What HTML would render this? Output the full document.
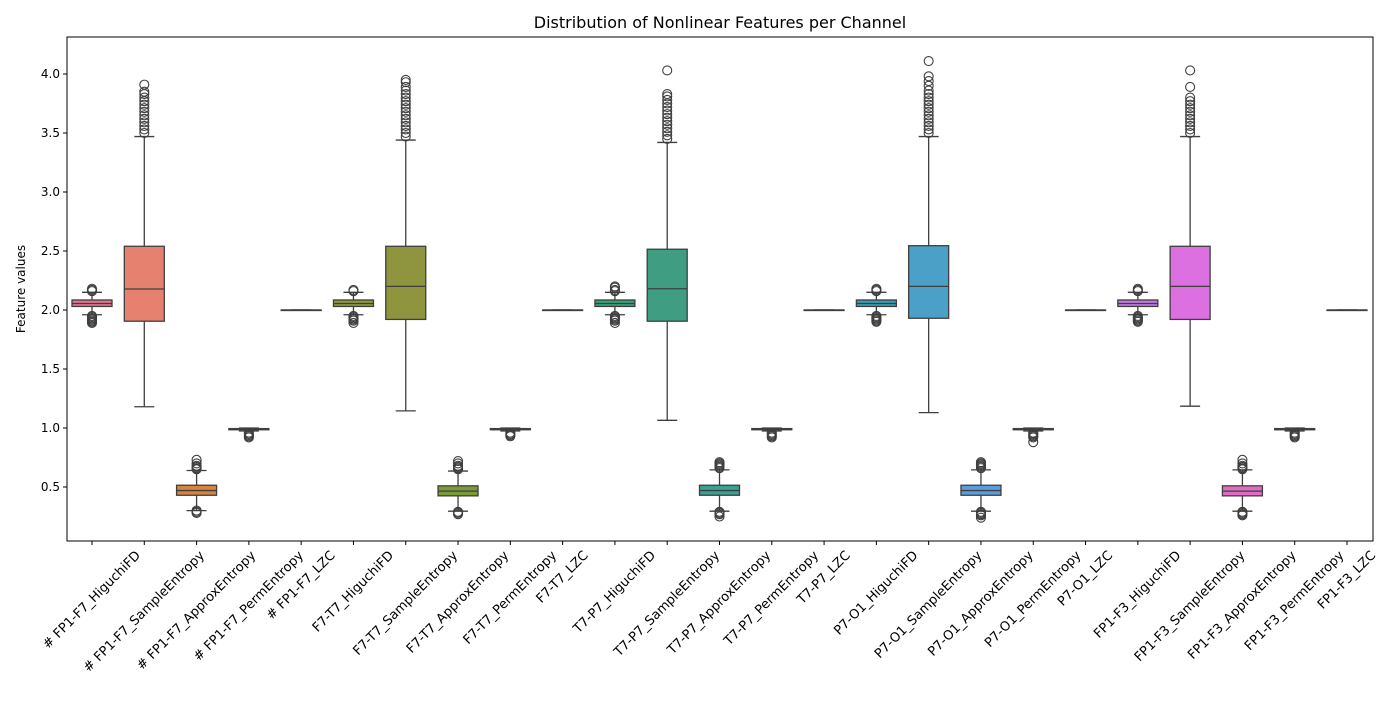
<!DOCTYPE html>
<html><head><meta charset="utf-8"><style>
body{margin:0;background:#fff;font-family:"Liberation Sans","DejaVu Sans",sans-serif;}
svg text{font-family:"DejaVu Sans","Liberation Sans",sans-serif;}
</style></head><body>
<svg id="chart" width="1400" height="700" xmlns="http://www.w3.org/2000/svg">
<rect width="1400" height="700" fill="#fff"/>
<text x="720" y="28" text-anchor="middle" font-size="16" fill="#000">Distribution of Nonlinear Features per Channel</text>
<text transform="translate(25,289) rotate(-90)" text-anchor="middle" font-size="12" fill="#000">Feature values</text>
<g id="plot"></g>
<rect x="67" y="37" width="1306" height="504" fill="none" stroke="#000" stroke-width="1"/>
</svg>
<script>
const categories=["# FP1-F7_HiguchiFD","# FP1-F7_SampleEntropy","# FP1-F7_ApproxEntropy","# FP1-F7_PermEntropy","# FP1-F7_LZC",
"F7-T7_HiguchiFD","F7-T7_SampleEntropy","F7-T7_ApproxEntropy","F7-T7_PermEntropy","F7-T7_LZC",
"T7-P7_HiguchiFD","T7-P7_SampleEntropy","T7-P7_ApproxEntropy","T7-P7_PermEntropy","T7-P7_LZC",
"P7-O1_HiguchiFD","P7-O1_SampleEntropy","P7-O1_ApproxEntropy","P7-O1_PermEntropy","P7-O1_LZC",
"FP1-F3_HiguchiFD","FP1-F3_SampleEntropy","FP1-F3_ApproxEntropy","FP1-F3_PermEntropy","FP1-F3_LZC"];
const colors=["#e07590","#e6806f","#d8843d","#c08d32","#a89532","#8f9a3a","#8e953e","#7c9a3a","#5ea13a","#3ba55a",
"#37a277","#3f9e82","#38a193","#3aa0a0","#3ba0ab","#3c9cb5","#4ba0c7","#5b9ee0","#8790e8","#a587e8",
"#c07ae0","#dc70e0","#e26cc4","#e66fb0","#e673a0"];
const q1=[2.03,1.905,0.43,0.985,2.0, 2.03,1.92,0.425,0.985,2.0, 2.03,1.905,0.43,0.985,2.0, 2.03,1.93,0.43,0.985,2.0, 2.03,1.92,0.425,0.985,2.0];
const med=[2.055,2.178,0.47,0.99,2.0, 2.055,2.20,0.465,0.99,2.0, 2.055,2.18,0.47,0.99,2.0, 2.055,2.20,0.47,0.99,2.0, 2.055,2.20,0.465,0.99,2.0];
const q3=[2.085,2.54,0.515,0.995,2.0, 2.085,2.54,0.51,0.995,2.0, 2.085,2.515,0.515,0.995,2.0, 2.085,2.545,0.515,0.995,2.0, 2.085,2.54,0.51,0.995,2.0];
const whiskLo=[1.96,1.18,0.30,0.975,2.0, 1.96,1.145,0.295,0.975,2.0, 1.96,1.065,0.295,0.975,2.0, 1.96,1.13,0.295,0.975,2.0, 1.96,1.185,0.295,0.975,2.0];
const whiskHi=[2.15,3.47,0.64,1.0,2.0, 2.15,3.44,0.635,1.0,2.0, 2.15,3.42,0.645,1.0,2.0, 2.15,3.47,0.645,1.0,2.0, 2.15,3.47,0.645,1.0,2.0];
const outliers=[
[1.89,1.90,1.91,1.92,1.93,1.94,1.95,2.16,2.17,2.18],
[3.50,3.53,3.56,3.59,3.62,3.65,3.68,3.71,3.74,3.77,3.80,3.83,3.85,3.91],
[0.28,0.29,0.30,0.65,0.66,0.67,0.68,0.70,0.73],
[0.92,0.93,0.94,0.95,0.96],
[],
[1.89,1.91,1.92,1.93,1.94,1.95,2.16,2.17],
[3.47,3.50,3.53,3.56,3.59,3.62,3.65,3.68,3.71,3.74,3.77,3.80,3.83,3.86,3.89,3.93,3.95],
[0.27,0.28,0.29,0.65,0.66,0.67,0.68,0.70,0.72],
[0.93,0.94,0.95,0.96],
[],
[1.89,1.91,1.92,1.93,1.94,1.95,2.16,2.17,2.19,2.20],
[3.45,3.48,3.51,3.54,3.57,3.60,3.63,3.66,3.69,3.72,3.75,3.78,3.81,3.83,4.03],
[0.25,0.27,0.28,0.29,0.66,0.67,0.68,0.69,0.70,0.71],
[0.92,0.93,0.94,0.95,0.96],
[],
[1.90,1.91,1.92,1.93,1.94,1.95,2.16,2.17,2.18],
[3.50,3.53,3.56,3.59,3.62,3.65,3.68,3.71,3.74,3.77,3.80,3.83,3.86,3.90,3.94,3.98,4.11],
[0.24,0.26,0.27,0.28,0.29,0.66,0.67,0.68,0.69,0.70,0.71],
[0.88,0.92,0.93,0.94,0.95,0.96],
[],
[1.90,1.91,1.92,1.93,1.94,1.95,2.16,2.17,2.18],
[3.50,3.53,3.56,3.59,3.62,3.65,3.68,3.71,3.74,3.77,3.80,3.89,4.03],
[0.26,0.27,0.28,0.29,0.65,0.66,0.67,0.68,0.70,0.73],
[0.92,0.93,0.94,0.95,0.96],
[]];
const yTicks=[0.5,1.0,1.5,2.0,2.5,3.0,3.5,4.0];
const yTickLabels=["0.5","1.0","1.5","2.0","2.5","3.0","3.5","4.0"];

const NS="http://www.w3.org/2000/svg";
const plot=document.getElementById('plot');
const X0=92, DX=(1347-92)/24, BW=40;
function xs(i){return X0+i*DX;}
function ys(v){return 310-(v-2)*118;}
function mk(tag,attrs,parent){const e=document.createElementNS(NS,tag);for(const k in attrs)e.setAttribute(k,attrs[k]);(parent||plot).appendChild(e);return e;}
const EC="#3f3f3f";
yTicks.forEach((v,i)=>{
  const y=ys(v);
  const t=mk('line',{x1:63,x2:67,y1:y,y2:y,stroke:'#000'});
  
  
  const l=mk('text',{x:60,y:y+4,'text-anchor':'end','font-size':12,fill:'#000'});
  l.textContent=yTickLabels[i];
  
  
});
categories.forEach((c,i)=>{
  const x=xs(i);
  const g=mk('g',{});
  
  
  mk('line',{x1:x,x2:x,y1:ys(whiskLo[i]),y2:ys(q1[i]),stroke:EC,'stroke-width':1.3},g);
  mk('line',{x1:x,x2:x,y1:ys(q3[i]),y2:ys(whiskHi[i]),stroke:EC,'stroke-width':1.3},g);
  mk('line',{x1:x-BW/4,x2:x+BW/4,y1:ys(whiskLo[i]),y2:ys(whiskLo[i]),stroke:EC,'stroke-width':1.3},g);
  mk('line',{x1:x-BW/4,x2:x+BW/4,y1:ys(whiskHi[i]),y2:ys(whiskHi[i]),stroke:EC,'stroke-width':1.3},g);
  const top=ys(q3[i]),bot=ys(q1[i]);
  mk('rect',{x:x-BW/2,y:top,width:BW,height:Math.max(bot-top,0.5),fill:colors[i],stroke:EC,'stroke-width':1.3},g);
  mk('line',{x1:x-BW/2,x2:x+BW/2,y1:ys(med[i]),y2:ys(med[i]),stroke:EC,'stroke-width':1.3},g);
  outliers[i].forEach(v=>{
    const o=mk('circle',{cx:x,cy:ys(v),r:4.5,fill:'none',stroke:EC,'stroke-width':1.1},g);
    
    
  });
  const t=mk('line',{x1:x,x2:x,y1:541,y2:545,stroke:'#000'});
  
  
  const l=mk('text',{x:0,y:0,'text-anchor':'middle','dominant-baseline':'central','font-size':13,fill:'#000'});
  l.textContent=c;
  
  
  const L=l.getComputedTextLength();
  const cy=549+(L+13)/(2*Math.SQRT2);
  l.setAttribute('transform',`translate(${x},${cy}) rotate(-45)`);
});
</script>
</body></html>
